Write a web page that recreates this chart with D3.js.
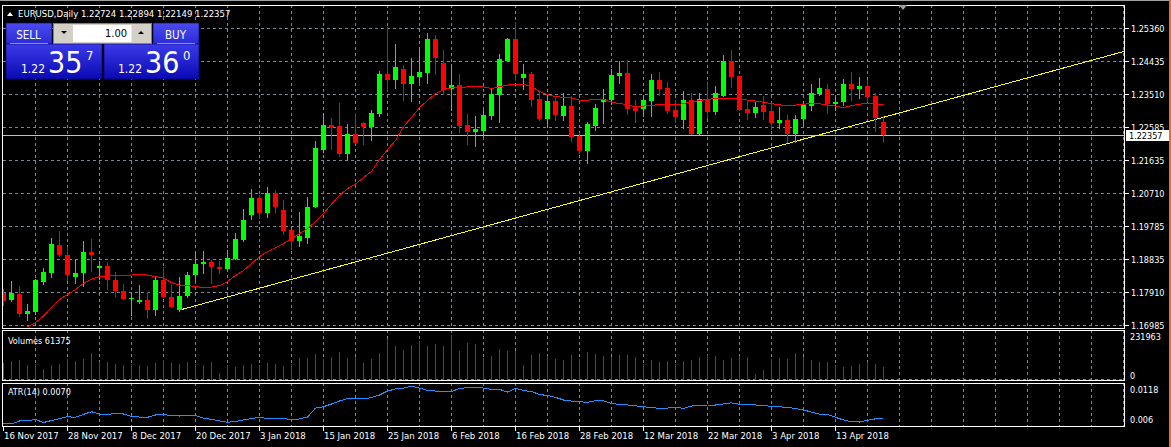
<!DOCTYPE html>
<html><head><meta charset="utf-8">
<script src="https://cdn.jsdelivr.net/npm/d3@7"></script>
<style>html,body{margin:0;padding:0;background:#000;overflow:hidden}svg{display:block}</style>
</head><body>
<script>
// ---------------- DATA ----------------
const symbol = "EURUSD";
const timeframe = "Daily";
const opens = [1.17915,1.17698,1.17887,1.17323,1.17371,1.18226,1.18479,1.19269,1.18987,1.18367,
1.18460,1.19072,1.18620,1.18677,1.18282,1.17972,1.17738,1.17662,1.17718,1.17416,
1.18282,1.17803,1.17416,1.17811,1.18403,1.18714,1.18770,1.18649,1.18592,1.18866,
1.19410,1.20095,1.20594,1.20152,1.20716,1.20256,1.19692,1.19362,1.19466,1.20321,
1.21928,1.22653,1.22625,1.21835,1.22399,1.22709,1.22588,1.22963,1.24091,1.23922,
1.24232,1.23809,1.24007,1.24119,1.25078,1.24401,1.23668,1.23781,1.22653,1.22456,
1.22484,1.22907,1.23499,1.24458,1.25078,1.23978,1.24091,1.23386,1.22822,1.23330,
1.22907,1.23189,1.22343,1.21920,1.22625,1.23302,1.23358,1.24035,1.24119,1.23132,
1.23104,1.23330,1.23922,1.23696,1.23076,1.22794,1.23358,1.22399,1.23386,1.23020,
1.23471,1.24458,1.24035,1.23104,1.22991,1.23217,1.23048,1.22709,1.22794,1.22399,
1.22822,1.23189,1.23527,1.23668,1.23245,1.23302,1.23809,1.23668,1.23753,1.23471,
1.22724];
const highs = [1.18028,1.18254,1.18113,1.17605,1.18310,1.18601,1.19466,1.19644,1.19193,1.18846,
1.19362,1.19438,1.18818,1.18790,1.18508,1.18169,1.17944,1.18133,1.17935,1.18367,
1.18649,1.18133,1.18367,1.18508,1.19072,1.19080,1.18846,1.18818,1.19128,1.19599,
1.20284,1.20848,1.20671,1.20905,1.20812,1.20530,1.19692,1.20200,1.20623,1.22202,
1.22983,1.22850,1.23254,1.22681,1.22991,1.22729,1.23076,1.24176,1.25397,1.24937,
1.24345,1.24542,1.24853,1.25247,1.25191,1.24768,1.24373,1.24091,1.22963,1.22907,
1.23076,1.23696,1.24655,1.25106,1.25558,1.24373,1.24148,1.23612,1.23527,1.23414,
1.23555,1.23471,1.22427,1.22738,1.23245,1.23668,1.24232,1.24458,1.24486,1.23358,
1.23499,1.24091,1.24148,1.23866,1.23358,1.23612,1.23555,1.23555,1.23894,1.23753,
1.24627,1.24768,1.24035,1.23358,1.23330,1.23471,1.23273,1.23161,1.22935,1.22935,
1.23330,1.23809,1.23978,1.23809,1.23499,1.23950,1.24148,1.24007,1.23922,1.23555,
1.22894];
const lows = [1.17577,1.17670,1.17247,1.17134,1.17323,1.18150,1.18367,1.18959,1.18282,1.18178,
1.18104,1.18516,1.18310,1.18009,1.17811,1.17727,1.17295,1.17633,1.17191,1.17295,
1.17794,1.17501,1.17388,1.17783,1.18282,1.18471,1.18189,1.18471,1.18578,1.18860,
1.19362,1.20002,1.20011,1.20039,1.20191,1.19571,1.19156,1.19241,1.19306,1.20321,
1.21872,1.21968,1.21779,1.21646,1.22145,1.22117,1.22230,1.22907,1.23612,1.23696,
1.23358,1.23330,1.23866,1.23837,1.24091,1.23527,1.23076,1.22456,1.22117,1.22061,
1.22343,1.22822,1.22738,1.24458,1.23922,1.23668,1.23189,1.22794,1.22597,1.22794,
1.22794,1.22202,1.21849,1.21581,1.22512,1.22709,1.23245,1.23837,1.22963,1.22738,
1.22907,1.22907,1.23499,1.22991,1.22738,1.22568,1.22399,1.22399,1.22850,1.22963,
1.23471,1.23725,1.23076,1.22822,1.22879,1.22822,1.22540,1.22568,1.22174,1.22174,
1.22653,1.23076,1.23499,1.22991,1.23076,1.23217,1.23358,1.23414,1.23330,1.22484,
1.22149];
const closes = [1.17690,1.17907,1.17323,1.17408,1.18262,1.18508,1.19297,1.18987,1.18403,1.18471,
1.19072,1.18987,1.18677,1.18262,1.17952,1.17727,1.17766,1.17718,1.17416,1.18282,
1.17794,1.17501,1.17831,1.18415,1.18733,1.18770,1.18629,1.18592,1.18902,1.19438,
1.19974,1.20594,1.20152,1.20716,1.20321,1.19664,1.19362,1.19503,1.20341,1.22004,
1.22645,1.22597,1.21835,1.22399,1.22145,1.22597,1.22991,1.24091,1.23922,1.24289,
1.23809,1.24035,1.24148,1.25078,1.24542,1.23640,1.23781,1.22625,1.22456,1.22540,
1.22935,1.23527,1.24514,1.25078,1.24091,1.24091,1.23358,1.22822,1.23330,1.22935,
1.23189,1.22315,1.21920,1.22667,1.23132,1.23386,1.24063,1.24119,1.23104,1.23048,
1.23358,1.23922,1.23668,1.23048,1.22879,1.23358,1.22399,1.23386,1.23020,1.23555,
1.24458,1.24007,1.23076,1.22991,1.23161,1.23020,1.22709,1.22794,1.22399,1.22822,
1.23217,1.23555,1.23696,1.23245,1.23302,1.23809,1.23668,1.23753,1.23443,1.22850,
1.22357];
// moving average as drawn (starts at bar maStart)
const maStart = 3;
const maValues = [1.16957,1.17069,1.17253,1.17492,1.17718,1.17859,1.18000,1.18169,1.18296,1.18367,
1.18386,1.18395,1.18403,1.18409,1.18437,1.18409,1.18367,1.18324,1.18197,1.18127,
1.18113,1.18085,1.18056,1.18071,1.18113,1.18226,1.18395,1.18536,1.18733,1.18931,
1.19072,1.19184,1.19297,1.19424,1.19579,1.19720,1.19918,1.20143,1.20411,1.20651,
1.20848,1.20975,1.21158,1.21328,1.21666,1.21948,1.22202,1.22597,1.22850,1.23132,
1.23330,1.23527,1.23640,1.23688,1.23702,1.23716,1.23716,1.23716,1.23668,1.23725,
1.23767,1.23789,1.23795,1.23725,1.23584,1.23499,1.23443,1.23423,1.23400,1.23344,
1.23344,1.23358,1.23358,1.23288,1.23245,1.23217,1.23147,1.23175,1.23203,1.23209,
1.23209,1.23209,1.23245,1.23293,1.23330,1.23372,1.23378,1.23378,1.23378,1.23378,
1.23344,1.23316,1.23282,1.23245,1.23209,1.23189,1.23203,1.23231,1.23240,1.23240,
1.23209,1.23175,1.23132,1.23189,1.23231,1.23245,1.23231,1.23209];
const volumes = [81900,89900,94700,71000,75700,52100,71000,75700,98000,89900,
99400,129200,91400,85200,77200,71000,75700,71000,66300,81900,
94700,81900,77200,86600,75700,71000,86600,34600,71000,63000,
71000,77200,71000,81900,77200,66300,77200,105600,104100,123100,
98000,108900,132600,105600,107500,81900,99400,127800,195500,162400,
142000,165700,183200,161000,170400,161000,214500,137300,175200,170400,
104100,113600,146800,137300,135900,71000,118400,127800,113600,99400,
94700,118400,99400,132600,123100,113600,108900,118400,116900,108900,
75700,94700,85200,89900,75700,89900,94700,108900,118400,113600,
94700,104100,113600,108900,28400,47300,99400,104100,99400,127800,
108900,94700,85200,86600,71000,61500,66300,75700,85200,75700,
61375];
const atrValues = [0.00637,0.00628,0.00669,0.00673,0.00690,0.00648,0.00676,0.00701,0.00728,0.00720,
0.00761,0.00797,0.00766,0.00761,0.00773,0.00766,0.00731,0.00724,0.00720,0.00752,
0.00756,0.00745,0.00738,0.00745,0.00745,0.00710,0.00692,0.00669,0.00651,0.00662,
0.00683,0.00704,0.00720,0.00704,0.00697,0.00706,0.00683,0.00697,0.00724,0.00848,
0.00866,0.00904,0.00945,0.00980,0.00986,0.00973,0.00993,0.01028,0.01083,0.01111,
0.01124,0.01148,0.01124,0.01090,0.01083,0.01083,0.01076,0.01118,0.01131,0.01134,
0.01124,0.01106,0.01106,0.01069,0.01120,0.01090,0.01076,0.01035,0.01021,0.00996,
0.00959,0.00945,0.00935,0.00927,0.00948,0.00949,0.00911,0.00897,0.00890,0.00879,
0.00866,0.00855,0.00844,0.00848,0.00858,0.00844,0.00876,0.00883,0.00890,0.00890,
0.00904,0.00920,0.00899,0.00893,0.00890,0.00880,0.00873,0.00865,0.00855,0.00842,
0.00821,0.00793,0.00763,0.00761,0.00720,0.00683,0.00659,0.00655,0.00679,0.00699,
0.00700];
const priceTicks = ["1.25360","1.24435","1.23510","1.22585","1.21635","1.20710","1.19785","1.18835","1.17910","1.16985"];
const volTicks = ["231963","0"];
const atrTicks = ["0.0118","0.006"];
const dateLabels = ["16 Nov 2017","28 Nov 2017","8 Dec 2017","20 Dec 2017","3 Jan 2018","15 Jan 2018","25 Jan 2018","6 Feb 2018","16 Feb 2018","28 Feb 2018","12 Mar 2018","22 Mar 2018","3 Apr 2018","13 Apr 2018"];
const dateLabelBars = [0,8,16,24,32,40,48,56,64,72,80,88,96,104];
// trendline anchors: [bar, price]
const trendA = [22, 1.17422];
const trendB = [110, 1.22859];
const lotSize = "1.00";
const sellPrice = ["1.22","35","7"];
const buyPrice = ["1.22","36","0"];

// ---------------- LAYOUT ----------------
const W = 1171, H = 447;
const FONT = "'DejaVu Sans Condensed','DejaVu Sans',sans-serif";
const plotL = 3, plotR = 1124;
const main = {top: 5, bottom: 328};
const volW = {top: 330, bottom: 380};
const atrW = {top: 383, bottom: 426};

const svg = d3.select("body").append("svg").attr("width", W).attr("height", H)
  .style("font-family", FONT);
svg.append("rect").attr("width", W).attr("height", H).attr("fill", "#000");

const x = d3.scaleLinear().domain([0, 110]).range([3.5, 883.5]);
const y = d3.scaleLinear().domain([1.16985, 1.25360]).range([325.6, 28.6]);
const yv = d3.scaleLinear().domain([0, 231963]).range([380, 331]);
const ya = d3.scaleLinear().domain([0.006, 0.0118]).range([426, 384]);

const defs = svg.append("defs");
defs.append("clipPath").attr("id", "clipMain").append("rect")
  .attr("x", plotL).attr("y", main.top + 1).attr("width", plotR - plotL).attr("height", main.bottom - main.top - 1);
defs.append("clipPath").attr("id", "clipVol").append("rect")
  .attr("x", plotL).attr("y", volW.top + 1).attr("width", plotR - plotL).attr("height", volW.bottom - volW.top);
defs.append("clipPath").attr("id", "clipAtr").append("rect")
  .attr("x", plotL).attr("y", atrW.top + 1).attr("width", plotR - plotL).attr("height", atrW.bottom - atrW.top - 1);

const gridColor = "#778899";
const dash = "3,3";
const crisp = v => Math.round(v) + 0.5;

// vertical grid positions (every 4 bars)
const vBars = d3.range(4, 141, 4);
function vGrid(g, top, bottom) {
  g.selectAll("line.vg").data(vBars).join("line").attr("class", "vg")
    .attr("x1", d => Math.floor(x(d)) + 0.5).attr("x2", d => Math.floor(x(d)) + 0.5)
    .attr("y1", top).attr("y2", bottom)
    .attr("stroke", gridColor).attr("stroke-dasharray", dash).attr("stroke-width", 1);
}

// ---------- MAIN WINDOW ----------
const gMain = svg.append("g").attr("clip-path", "url(#clipMain)");
// horizontal grid: evenly spaced between first and last tick
const pTop = +priceTicks[0], pBot = +priceTicks[priceTicks.length - 1];
const gridPrices = priceTicks.map((t, i) => pTop - i * (pTop - pBot) / (priceTicks.length - 1));
gMain.selectAll("line.hg").data(gridPrices).join("line").attr("class", "hg")
  .attr("x1", plotL).attr("x2", plotR)
  .attr("y1", d => crisp(y(d) - 0.5)).attr("y2", d => crisp(y(d) - 0.5))
  .attr("stroke", gridColor).attr("stroke-dasharray", dash);
vGrid(gMain, main.top, main.bottom);

// bid line
const lastClose = closes[closes.length - 1];
gMain.append("line").attr("x1", plotL).attr("x2", plotR)
  .attr("y1", crisp(y(lastClose))).attr("y2", crisp(y(lastClose)))
  .attr("stroke", "#c0c0c0").attr("stroke-width", 1);

// trendline ray
const slope = (trendB[1] - trendA[1]) / (trendB[0] - trendA[0]);
const endBar = x.invert(plotR);
gMain.append("line")
  .attr("x1", x(trendA[0])).attr("y1", y(trendA[1]))
  .attr("x2", x(endBar)).attr("y2", y(trendA[1] + slope * (endBar - trendA[0])))
  .attr("stroke", "#ffff00").attr("stroke-width", 1).attr("shape-rendering", "crispEdges");

// candles
const bars = opens.map((o, i) => ({i, o, h: highs[i], l: lows[i], c: closes[i]}));
const up = "#00ff00", down = "#ff0000";
const cg = gMain.append("g").attr("shape-rendering", "crispEdges");
cg.selectAll("line.wick").data(bars).join("line").attr("class", "wick")
  .attr("x1", d => x(d.i)).attr("x2", d => x(d.i))
  .attr("y1", d => Math.round(y(d.h))).attr("y2", d => Math.round(y(d.l)) + 1)
  .attr("stroke", d => d.c >= d.o ? up : down).attr("stroke-width", 1);
cg.selectAll("rect.body").data(bars).join("rect").attr("class", "body")
  .attr("x", d => x(d.i) - 2.5).attr("width", 5)
  .attr("y", d => Math.round(y(Math.max(d.o, d.c))))
  .attr("height", d => Math.max(1, Math.round(y(Math.min(d.o, d.c))) - Math.round(y(Math.max(d.o, d.c)))))
  .attr("fill", d => d.c >= d.o ? up : down);

// moving average
const maLine = d3.line().x((d, k) => x(maStart + k)).y(d => y(d));
gMain.append("path").datum(maValues).attr("d", maLine)
  .attr("fill", "none").attr("stroke", "#ff0000").attr("stroke-width", 1).attr("shape-rendering", "crispEdges");

// main frame
svg.append("rect").attr("x", plotL - 0.5).attr("y", main.top + 0.5)
  .attr("width", plotR - plotL + 1).attr("height", main.bottom - main.top)
  .attr("fill", "none").attr("stroke", "#fff");

// price axis labels
const axisG = svg.append("g").attr("fill", "#fff").attr("font-size", "9px");
priceTicks.forEach((t, i) => {
  const yy = crisp(y(gridPrices[i]) - 0.5);
  axisG.append("line").attr("x1", plotR + 1).attr("x2", plotR + 5).attr("y1", yy).attr("y2", yy).attr("stroke", "#fff");
  axisG.append("text").attr("x", 1131).attr("y", yy + 3.5).text(t);
});
// bid price label
const bidY = crisp(y(lastClose));
svg.append("rect").attr("x", 1126).attr("y", bidY - 5.5).attr("width", 43).attr("height", 11).attr("fill", "#fff");
svg.append("text").attr("x", 1129).attr("y", bidY + 3.5).attr("font-size", "9px").attr("fill", "#000").text(lastClose.toFixed(5));

// header
svg.append("path").attr("d", "M7,16 L13,16 L10,12 Z").attr("fill", "#fff");
const last = bars[bars.length - 1];
svg.append("text").attr("x", 18).attr("y", 17).attr("font-size", "9.5px").attr("fill", "#fff")
  .text(`${symbol},${timeframe}  ${last.o.toFixed(5)} ${last.h.toFixed(5)} ${last.l.toFixed(5)} ${last.c.toFixed(5)}`);

// ---------- VOLUME WINDOW ----------
const gVol = svg.append("g").attr("clip-path", "url(#clipVol)");
vGrid(gVol, volW.top, volW.bottom);
gVol.append("line").attr("x1", plotL).attr("x2", plotR).attr("y1", 379.5).attr("y2", 379.5)
  .attr("stroke", gridColor).attr("stroke-dasharray", dash);
gVol.append("g").attr("shape-rendering", "crispEdges").selectAll("line").data(volumes).join("line")
  .attr("x1", (d, i) => x(i)).attr("x2", (d, i) => x(i))
  .attr("y1", yv(0)).attr("y2", d => Math.round(yv(d)))
  .attr("stroke", (d, i) => (i > 0 && d > volumes[i - 1]) ? "#008000" : "#ff0000").attr("stroke-width", 1);
svg.append("rect").attr("x", plotL - 0.5).attr("y", volW.top + 0.5)
  .attr("width", plotR - plotL + 1).attr("height", volW.bottom - volW.top)
  .attr("fill", "none").attr("stroke", "#fff");
svg.append("text").attr("x", 8).attr("y", 344).attr("font-size", "9px").attr("fill", "#fff")
  .text("Volumes " + volumes[volumes.length - 1]);
svg.append("text").attr("x", 1130).attr("y", 340).attr("font-size", "9px").attr("fill", "#fff").text(volTicks[0]);
svg.append("text").attr("x", 1130).attr("y", 378.5).attr("font-size", "9px").attr("fill", "#fff").text(volTicks[1]);

// ---------- ATR WINDOW ----------
const gAtr = svg.append("g").attr("clip-path", "url(#clipAtr)");
vGrid(gAtr, atrW.top, atrW.bottom);
gAtr.append("path").datum(atrValues).attr("d", d3.line().x((d, i) => x(i)).y(d => ya(d)))
  .attr("fill", "none").attr("stroke", "#1e90ff").attr("stroke-width", 1).attr("shape-rendering", "crispEdges");
svg.append("rect").attr("x", plotL - 0.5).attr("y", atrW.top + 0.5)
  .attr("width", plotR - plotL + 1).attr("height", atrW.bottom - atrW.top)
  .attr("fill", "none").attr("stroke", "#fff");
svg.append("text").attr("x", 8).attr("y", 395).attr("font-size", "9px").attr("fill", "#fff")
  .text("ATR(14) " + atrValues[atrValues.length - 1].toFixed(4));
svg.append("text").attr("x", 1130).attr("y", 392.5).attr("font-size", "9px").attr("fill", "#fff").text(atrTicks[0]);
svg.append("text").attr("x", 1130).attr("y", 423).attr("font-size", "9px").attr("fill", "#fff").text(atrTicks[1]);

// ---------- DATE AXIS ----------
const dg = svg.append("g");
dateLabels.forEach((lab, k) => {
  const xx = Math.floor(x(dateLabelBars[k])) + 0.5;
  dg.append("line").attr("x1", xx).attr("x2", xx).attr("y1", 427).attr("y2", 431).attr("stroke", "#fff");
  dg.append("text").attr("x", xx + 0.5).attr("y", 439).attr("font-size", "9.5px").attr("fill", "#fff").text(lab);
});

// ---------- chrome ----------
svg.append("rect").attr("x", 0).attr("y", 0).attr("width", W).attr("height", 1).attr("fill", "#a0a0a0");
svg.append("rect").attr("x", 1169).attr("y", 0).attr("width", 2).attr("height", H).attr("fill", "#f26d21");
svg.append("path").attr("d", "M899,5 L907,5 L903,10 Z").attr("fill", "#a0a0a0");

// ---------- one-click trading panel ----------
const grad = defs.append("linearGradient").attr("id", "blueG").attr("x1", 0).attr("x2", 0).attr("y1", 0).attr("y2", 1);
grad.append("stop").attr("offset", "0%").attr("stop-color", "#3a3ae8");
grad.append("stop").attr("offset", "100%").attr("stop-color", "#0a0ab4");
const grad2 = defs.append("linearGradient").attr("id", "blueH").attr("x1", 0).attr("x2", 0).attr("y1", 0).attr("y2", 1);
grad2.append("stop").attr("offset", "0%").attr("stop-color", "#4b4bef");
grad2.append("stop").attr("offset", "100%").attr("stop-color", "#2a2ad6");
const panel = svg.append("g");
// sell
panel.append("rect").attr("x", 6).attr("y", 23).attr("width", 46).attr("height", 22).attr("fill", "url(#blueH)").attr("stroke", "#000066").attr("stroke-width", 0.6);
panel.append("rect").attr("x", 6).attr("y", 44).attr("width", 96).attr("height", 35).attr("fill", "url(#blueG)").attr("stroke", "#000066").attr("stroke-width", 0.6);
panel.append("line").attr("x1", 10).attr("x2", 48).attr("y1", 43.5).attr("y2", 43.5).attr("stroke", "#8c8cff");
panel.append("text").attr("x", 28.5).attr("y", 38.5).attr("text-anchor", "middle").attr("font-size", "11.5px").attr("fill", "#fff").text("SELL");
// buy
panel.append("rect").attr("x", 153).attr("y", 23).attr("width", 46).attr("height", 22).attr("fill", "url(#blueH)").attr("stroke", "#000066").attr("stroke-width", 0.6);
panel.append("rect").attr("x", 104).attr("y", 44).attr("width", 95).attr("height", 35).attr("fill", "url(#blueG)").attr("stroke", "#000066").attr("stroke-width", 0.6);
panel.append("line").attr("x1", 157).attr("x2", 195).attr("y1", 43.5).attr("y2", 43.5).attr("stroke", "#8c8cff");
panel.append("text").attr("x", 175.5).attr("y", 38.5).attr("text-anchor", "middle").attr("font-size", "11.5px").attr("fill", "#fff").text("BUY");
// lot widget
panel.append("rect").attr("x", 53.5).attr("y", 23.5).attr("width", 98).attr("height", 20).attr("fill", "#d4d0c8").attr("stroke", "#808080");
panel.append("rect").attr("x", 73).attr("y", 25).attr("width", 58.5).attr("height", 17).attr("fill", "#fff");
panel.append("path").attr("d", "M61,31 L67,31 L64,34 Z").attr("fill", "#000");
panel.append("path").attr("d", "M138,34 L144,34 L141,31 Z").attr("fill", "#000");
panel.append("text").attr("x", 127).attr("y", 37).attr("text-anchor", "end").attr("font-size", "11px").attr("fill", "#000").text(lotSize);
// prices
function priceBox(x0, p) {
  panel.append("text").attr("x", x0).attr("y", 72.5).attr("font-size", "12px").attr("fill", "#fff").text(p[0]);
  panel.append("text").attr("x", x0 + 27).attr("y", 72.5).attr("font-size", "30px").attr("fill", "#fff").text(p[1]);
  panel.append("text").attr("x", x0 + 65).attr("y", 59.5).attr("font-size", "13px").attr("fill", "#fff").text(p[2]);
}
priceBox(21, sellPrice);
priceBox(118, buyPrice);
</script>
</body></html>
